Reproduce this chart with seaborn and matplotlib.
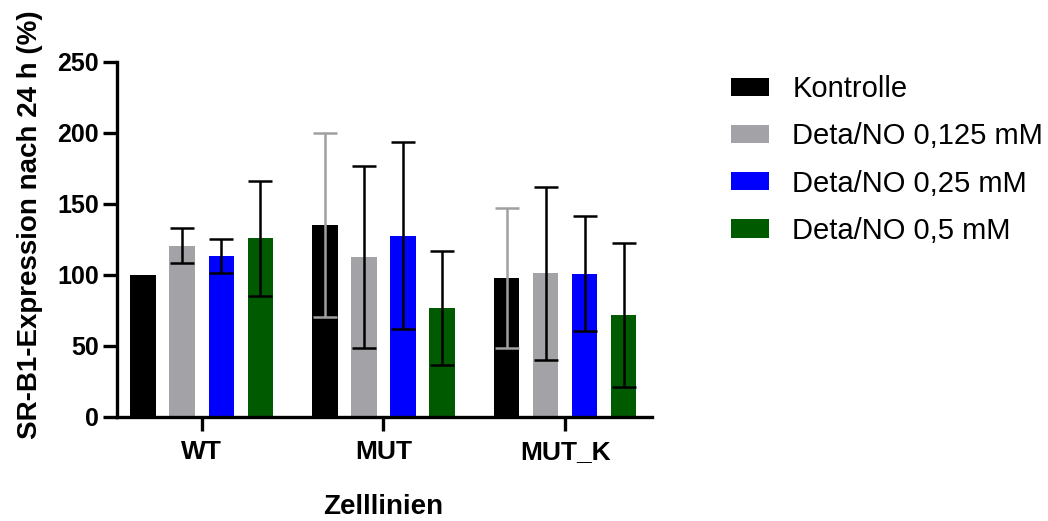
import pandas as pd
import matplotlib
matplotlib.use("Agg")
import matplotlib.pyplot as plt
import seaborn as sns

# Werte (Mittelwert / SD)
zelllinien = ["WT", "MUT", "MUT_K"]
behandlungen = ["Kontrolle", "Deta/NO 0,125 mM", "Deta/NO 0,25 mM", "Deta/NO 0,5 mM"]
mittelwerte = {
    "Kontrolle":        [100.0, 134.8, 97.9],
    "Deta/NO 0,125 mM": [120.5, 112.7, 101.0],
    "Deta/NO 0,25 mM":  [113.2, 127.5, 100.7],
    "Deta/NO 0,5 mM":   [125.6, 76.8, 71.8],
}
sd = {
    "Kontrolle":        [0.0, 64.9, 49.2],
    "Deta/NO 0,125 mM": [12.6, 64.0, 61.1],
    "Deta/NO 0,25 mM":  [11.7, 66.0, 40.6],
    "Deta/NO 0,5 mM":   [40.4, 40.2, 50.7],
}
farben = ["#000000", "#A3A2A7", "#0000FF", "#005A00"]
fehlerfarben = ["#A0A0A0", "#000000", "#000000", "#000000"]

rows = []
for b in behandlungen:
    for z, m in zip(zelllinien, mittelwerte[b]):
        rows.append({"Zelllinie": z, "Behandlung": b, "Wert": m})
df = pd.DataFrame(rows)

sns.set_theme(style="ticks")
plt.rcParams["font.family"] = ["Liberation Sans", "DejaVu Sans"]
plt.rcParams.update({"text.color": "black", "axes.labelcolor": "black",
                     "xtick.color": "black", "ytick.color": "black"})

fig = plt.figure(figsize=(10.48, 5.21), dpi=100)
ax = fig.add_axes([0.1116, 0.2002, 0.5103, 0.6814])

sns.barplot(
    data=df, x="Zelllinie", y="Wert", hue="Behandlung",
    order=zelllinien, hue_order=behandlungen, palette=farben,
    width=0.86, gap=0.346, errorbar=None, linewidth=0,
    saturation=1, legend=False, ax=ax,
)

# Fehlerbalken an den Balkenpositionen
for i, (b, cont) in enumerate(zip(behandlungen, ax.containers)):
    for j, bar in enumerate(cont):
        if sd[b][j] <= 0:
            continue
        xc = bar.get_x() + bar.get_width() / 2
        ax.errorbar(xc, bar.get_height(), yerr=sd[b][j], fmt="none",
                    ecolor=fehlerfarben[i], elinewidth=1.8,
                    capsize=8.6, capthick=1.8, zorder=5)

ax.set_ylim(0, 250)
ax.set_yticks([0, 50, 100, 150, 200, 250])
ax.set_xlim(-0.467, 2.477)

sns.despine(ax=ax)
for s in ["left", "bottom"]:
    ax.spines[s].set_linewidth(2.4)
    ax.spines[s].set_color("black")
ax.tick_params(axis="both", length=10, width=2.4, color="black")
ax.tick_params(axis="y", labelsize=18, pad=3)
ax.tick_params(axis="x", labelsize=19, pad=7)
for t in ax.get_xticklabels() + ax.get_yticklabels():
    t.set_fontweight("bold")

ax.set_xlabel("Zelllinien", fontsize=20, fontweight="bold", va="center")
ax.set_ylabel("SR-B1-Expression nach 24 h (%)", fontsize=20, fontweight="bold", va="center")
ax.xaxis.set_label_coords(0.497, -0.254)
ax.yaxis.set_label_coords(-0.163, 0.541)

handles = [plt.Rectangle((0, 0), 1, 1, color=c, linewidth=0) for c in farben]
fig.legend(handles, behandlungen, loc="upper left",
           bbox_to_anchor=(731 / 1048, 1 - 75 / 521), bbox_transform=fig.transFigure,
           frameon=False, fontsize=21, handlelength=1.31, handleheight=0.59,
           handletextpad=0.79, labelspacing=0.66, borderpad=0, borderaxespad=0)

fig.savefig("out.png", dpi=100, facecolor="white")
